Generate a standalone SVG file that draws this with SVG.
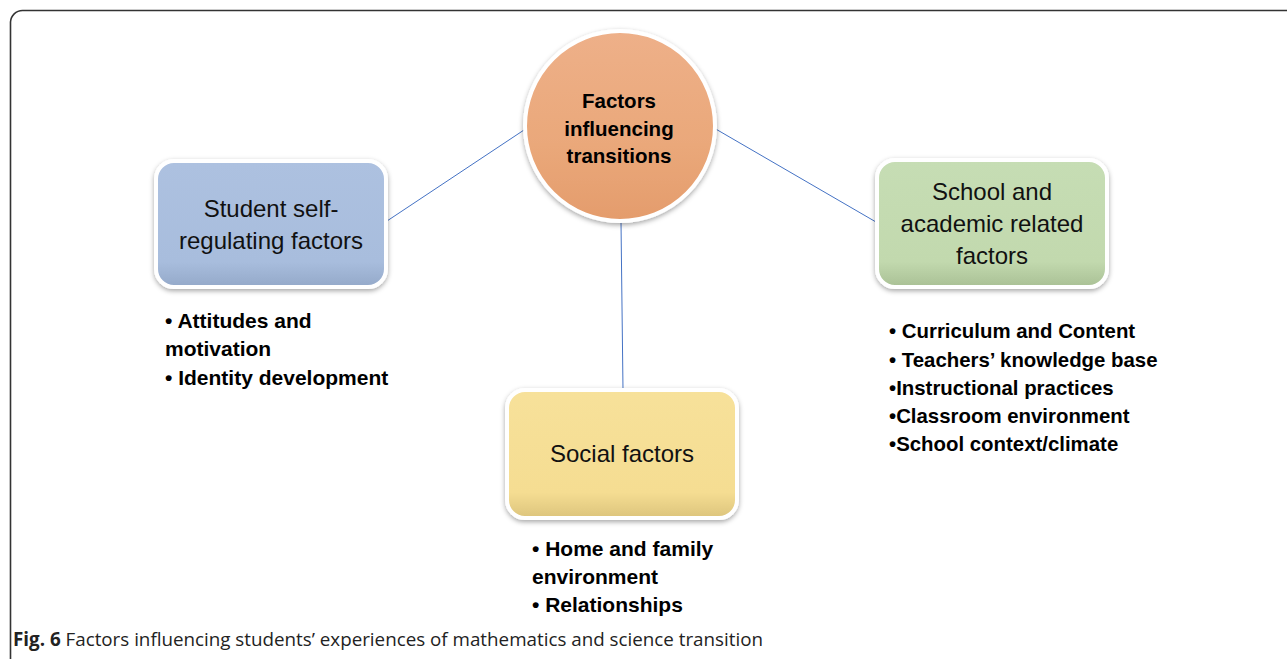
<svg xmlns="http://www.w3.org/2000/svg" width="1287" height="659" viewBox="0 0 1287 659">
<defs>
<filter id="sh" x="-20%" y="-20%" width="140%" height="150%">
<feDropShadow dx="0" dy="2" stdDeviation="2.5" flood-color="#000" flood-opacity="0.35"/>
</filter>
<linearGradient id="gOrange" x1="0" y1="0" x2="0" y2="1">
<stop offset="0" stop-color="#EEB089"/><stop offset="0.6" stop-color="#EAA87A"/><stop offset="1" stop-color="#E49C6C"/>
</linearGradient>
<linearGradient id="gBlue" x1="0" y1="0" x2="0" y2="1">
<stop offset="0" stop-color="#ADC1E0"/><stop offset="0.8" stop-color="#A8BDDD"/><stop offset="1" stop-color="#94A9C9"/>
</linearGradient>
<linearGradient id="gGreen" x1="0" y1="0" x2="0" y2="1">
<stop offset="0" stop-color="#C6DDB4"/><stop offset="0.8" stop-color="#C2D9AE"/><stop offset="1" stop-color="#A9C095"/>
</linearGradient>
<linearGradient id="gYellow" x1="0" y1="0" x2="0" y2="1">
<stop offset="0" stop-color="#F7E19A"/><stop offset="0.8" stop-color="#F5DD92"/><stop offset="1" stop-color="#DCC47C"/>
</linearGradient>
</defs>
<style>
.node{stroke:#fff;stroke-width:4;filter:url(#sh)}
.lbl{font-family:"Liberation Sans",Arial,sans-serif;font-size:24px;fill:#111;text-anchor:middle}
.ctr{font-family:"Liberation Sans",Arial,sans-serif;font-size:20.5px;font-weight:bold;fill:#000;text-anchor:middle}
.bul{font-family:"Liberation Sans",Arial,sans-serif;font-size:21px;font-weight:bold;fill:#000}
.bul2{font-family:"Liberation Sans",Arial,sans-serif;font-size:20.4px;font-weight:bold;fill:#000}
.conn{stroke:#4472C4;stroke-width:1;fill:none}
.cap{font-family:"Open Sans","Liberation Sans",sans-serif;font-size:18.8px;fill:#222}
</style>
<rect width="1287" height="659" fill="#fff"/>
<path d="M10.5 659 V22 A12 12 0 0 1 22.5 10.5 H1287" fill="none" stroke="#333" stroke-width="1.6"/>
<g id="connectors">
<line class="conn" x1="527" y1="128" x2="387" y2="221"/>
<line class="conn" x1="714" y1="128" x2="876" y2="222"/>
<line class="conn" x1="621" y1="222" x2="623" y2="390"/>
</g>
<g id="center">
<circle class="node" cx="620" cy="126" r="95" fill="url(#gOrange)"/>
<text class="ctr" x="619" y="108">Factors</text>
<text class="ctr" x="619" y="136">influencing</text>
<text class="ctr" x="619" y="163">transitions</text>
</g>
<g id="student">
<rect class="node" x="156" y="161" width="230" height="126" rx="18" fill="url(#gBlue)"/>
<text class="lbl" x="271" y="217">Student self-</text>
<text class="lbl" x="271" y="249">regulating factors</text>
</g>
<g id="school">
<rect class="node" x="877" y="160" width="230" height="127" rx="18" fill="url(#gGreen)"/>
<text class="lbl" x="992" y="200">School and</text>
<text class="lbl" x="992" y="232">academic related</text>
<text class="lbl" x="992" y="264">factors</text>
</g>
<g id="social">
<rect class="node" x="507" y="390" width="230" height="128" rx="18" fill="url(#gYellow)"/>
<text class="lbl" x="622" y="462">Social factors</text>
</g>
<g id="student-list">
<text class="bul" x="165" y="328">• Attitudes and</text>
<text class="bul" x="165" y="356">motivation</text>
<text class="bul" x="165" y="385">• Identity development</text>
</g>
<g id="school-list">
<text class="bul2" x="889" y="338">•  Curriculum and Content</text>
<text class="bul2" x="889" y="367">•  Teachers’ knowledge base</text>
<text class="bul2" x="889" y="395">•Instructional practices</text>
<text class="bul2" x="889" y="423">•Classroom environment</text>
<text class="bul2" x="889" y="451">•School context/climate</text>
</g>
<g id="social-list">
<text class="bul" x="532" y="556">• Home and family</text>
<text class="bul" x="532" y="584">environment</text>
<text class="bul" x="532" y="612">• Relationships</text>
</g>
<g id="caption">
<text class="cap" x="13" y="646"><tspan font-weight="bold">Fig. 6</tspan>  Factors influencing students’ experiences of mathematics and science transition</text>
</g>
</svg>
